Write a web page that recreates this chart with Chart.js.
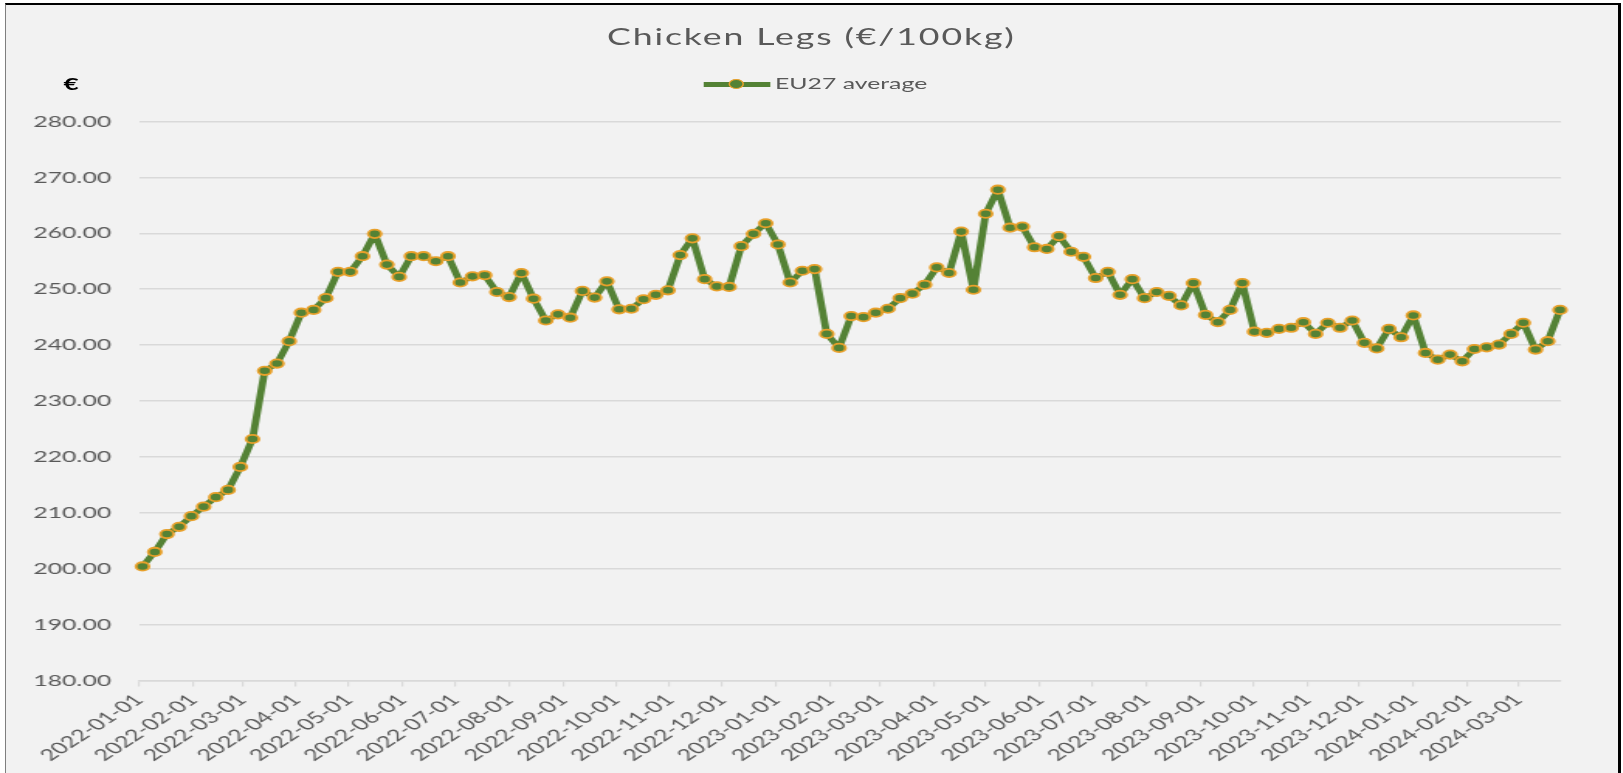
<!DOCTYPE html>
<html lang="en">
<head>
    <meta charset="UTF-8">
    <title>Chicken Legs (€/100kg)</title>
    <style>
        body {
            margin: 0;
            background: #fff;
            overflow: hidden;
            font-family: Lato, sans-serif;
        }
        #frame {
            position: absolute;
            left: 5px;
            top: 3px;
            width: 1612px;
            height: 800px;
            background: #f2f2f2;
            border-top: 2px solid #000;
            border-left: 1px solid #7f7f7f;
            border-right: 3px solid #000;
        }
        /* the original picture is stretched sideways, so the whole chart is drawn narrow and widened */
        #stage {
            position: absolute;
            left: 0;
            top: 0;
            width: 1047px;
            height: 773px;
            transform-origin: 0 0;
            transform: scaleX(1.55);
        }
        #title {
            position: absolute;
            left: 0;
            top: 22px;
            width: 1047px;
            text-align: center;
            font-size: 23px;
            line-height: 28px;
            letter-spacing: 1.2px;
            color: #595959;
        }
        #euro {
            position: absolute;
            left: 41px;
            top: 73px;
            font-size: 17px;
            font-weight: bold;
            color: #000;
        }
        #legLine {
            position: absolute;
            left: 454px;
            top: 81.5px;
            width: 43px;
            height: 5px;
            background: #548235;
        }
        #legDot {
            position: absolute;
            left: 469.5px;
            top: 78.5px;
            width: 8px;
            height: 8px;
            border: 1.8px solid #e8a02a;
            border-radius: 50%;
            background: #548235;
        }
        #legText {
            position: absolute;
            left: 500px;
            top: 73px;
            font-size: 16px;
            line-height: 20px;
            color: #595959;
        }
        #chart {
            position: absolute;
            left: 0;
            top: 0;
        }
    </style>
</head>
<body>
    <div id="frame"></div>
    <div id="stage">
        <div id="title">Chicken Legs (€/100kg)</div>
        <div id="euro">€</div>
        <div id="legLine"></div>
        <div id="legDot"></div>
        <div id="legText">EU27 average</div>
        <canvas id="chart" width="1047" height="773"></canvas>
    </div>
    <script src="https://cdn.jsdelivr.net/npm/chart.js"></script>
    <script>
        const seriesName = 'EU27 average';

        const weeks = [
            '2022-01-03', '2022-01-10', '2022-01-17', '2022-01-24', '2022-01-31', '2022-02-07', '2022-02-14', '2022-02-21',
            '2022-02-28', '2022-03-07', '2022-03-14', '2022-03-21', '2022-03-28', '2022-04-04', '2022-04-11', '2022-04-18',
            '2022-04-25', '2022-05-02', '2022-05-09', '2022-05-16', '2022-05-23', '2022-05-30', '2022-06-06', '2022-06-13',
            '2022-06-20', '2022-06-27', '2022-07-04', '2022-07-11', '2022-07-18', '2022-07-25', '2022-08-01', '2022-08-08',
            '2022-08-15', '2022-08-22', '2022-08-29', '2022-09-05', '2022-09-12', '2022-09-19', '2022-09-26', '2022-10-03',
            '2022-10-10', '2022-10-17', '2022-10-24', '2022-10-31', '2022-11-07', '2022-11-14', '2022-11-21', '2022-11-28',
            '2022-12-05', '2022-12-12', '2022-12-19', '2022-12-26', '2023-01-02', '2023-01-09', '2023-01-16', '2023-01-23',
            '2023-01-30', '2023-02-06', '2023-02-13', '2023-02-20', '2023-02-27', '2023-03-06', '2023-03-13', '2023-03-20',
            '2023-03-27', '2023-04-03', '2023-04-10', '2023-04-17', '2023-04-24', '2023-05-01', '2023-05-08', '2023-05-15',
            '2023-05-22', '2023-05-29', '2023-06-05', '2023-06-12', '2023-06-19', '2023-06-26', '2023-07-03', '2023-07-10',
            '2023-07-17', '2023-07-24', '2023-07-31', '2023-08-07', '2023-08-14', '2023-08-21', '2023-08-28', '2023-09-04',
            '2023-09-11', '2023-09-18', '2023-09-25', '2023-10-02', '2023-10-09', '2023-10-16', '2023-10-23', '2023-10-30',
            '2023-11-06', '2023-11-13', '2023-11-20', '2023-11-27', '2023-12-04', '2023-12-11', '2023-12-18', '2023-12-25',
            '2024-01-01', '2024-01-08', '2024-01-15', '2024-01-22', '2024-01-29', '2024-02-05', '2024-02-12', '2024-02-19',
            '2024-02-26', '2024-03-04', '2024-03-11', '2024-03-18', '2024-03-25'
        ];

        const prices = [
            200.4, 203.0, 206.2, 207.5, 209.4, 211.1, 212.8, 214.1, 218.2, 223.2,
            235.4, 236.7, 240.7, 245.8, 246.3, 248.4, 253.1, 253.1, 255.9, 259.9,
            254.4, 252.2, 255.9, 255.9, 255.0, 255.9, 251.2, 252.3, 252.5, 249.5,
            248.6, 252.9, 248.3, 244.4, 245.5, 244.9, 249.7, 248.5, 251.4, 246.4,
            246.5, 248.2, 249.0, 249.8, 256.1, 259.1, 251.8, 250.5, 250.4, 257.7,
            259.9, 261.8, 258.0, 251.2, 253.3, 253.6, 242.0, 239.5, 245.2, 245.0,
            245.8, 246.5, 248.4, 249.2, 250.8, 253.9, 252.9, 260.3, 249.9, 263.5,
            267.8, 261.0, 261.2, 257.5, 257.2, 259.5, 256.7, 255.8, 252.0, 253.1,
            249.0, 251.8, 248.4, 249.5, 248.8, 247.1, 251.1, 245.4, 244.1, 246.3,
            251.1, 242.4, 242.2, 242.9, 243.1, 244.1, 242.0, 244.0, 243.1, 244.4,
            240.4, 239.4, 242.9, 241.4, 245.3, 238.6, 237.4, 238.3, 237.1, 239.3,
            239.6, 240.1, 242.0, 244.0, 239.2, 240.7, 246.3
        ];

        const monthTicks = [
            '2022-01-01', '2022-02-01', '2022-03-01', '2022-04-01', '2022-05-01', '2022-06-01', '2022-07-01',
            '2022-08-01', '2022-09-01', '2022-10-01', '2022-11-01', '2022-12-01', '2023-01-01', '2023-02-01',
            '2023-03-01', '2023-04-01', '2023-05-01', '2023-06-01', '2023-07-01', '2023-08-01', '2023-09-01',
            '2023-10-01', '2023-11-01', '2023-12-01', '2024-01-01', '2024-02-01', '2024-03-01'
        ];

        const yMin = 180, yMax = 280, yStep = 10;
        const axisStart = '2022-01-01';
        const axisEnd = '2024-03-26';

        // days since the axis start, so the x scale is a plain linear one
        const dayOf = d => (Date.parse(d) - Date.parse(axisStart)) / 864e5;

        Chart.defaults.font.family = 'Lato, sans-serif';
        Chart.defaults.color = '#595959';

        const ctx = document.getElementById('chart').getContext('2d');
        const chart = new Chart(ctx, {
            type: 'line',
            data: {
                datasets: [{
                    label: seriesName,
                    data: weeks.map((w, i) => ({ x: dayOf(w), y: prices[i] })),
                    borderColor: '#548235',
                    borderWidth: 4.8,
                    borderJoinStyle: 'round',
                    borderCapStyle: 'round',
                    pointRadius: 4.2,
                    pointHoverRadius: 4.2,
                    pointBorderWidth: 1.8,
                    pointBackgroundColor: '#548235',
                    pointBorderColor: '#e8a02a',
                    tension: 0,
                    fill: false,
                    clip: false
                }]
            },
            options: {
                responsive: false,
                animation: false,
                devicePixelRatio: 1,
                layout: {
                    padding: { top: 121.5, right: 40, bottom: 0, left: 0 }
                },
                plugins: {
                    legend: { display: false },
                    title: { display: false },
                    tooltip: { enabled: false }
                },
                scales: {
                    x: {
                        type: 'linear',
                        min: dayOf(axisStart),
                        max: dayOf(axisEnd) - 0.5,
                        afterBuildTicks: scale => {
                            scale.ticks = monthTicks.map(m => ({ value: dayOf(m) }));
                        },
                        afterFit: scale => { scale.height = 92.5; },
                        ticks: {
                            autoSkip: false,
                            minRotation: 45,
                            maxRotation: 45,
                            padding: 4,
                            font: { size: 16 },
                            color: '#595959',
                            callback: (value, index) => monthTicks[index]
                        },
                        grid: {
                            drawOnChartArea: false,
                            drawTicks: true,
                            tickLength: 6,
                            color: '#d9d9d9',
                            lineWidth: 1.2
                        },
                        border: { display: true, color: '#d9d9d9', width: 1.5 }
                    },
                    y: {
                        min: yMin,
                        max: yMax,
                        afterFit: scale => { scale.width = 89.7; },
                        ticks: {
                            stepSize: yStep,
                            padding: 18,
                            font: { size: 16 },
                            color: '#595959',
                            callback: v => v.toFixed(2)
                        },
                        grid: {
                            drawTicks: false,
                            color: '#d9d9d9',
                            lineWidth: 1.5
                        },
                        border: { display: false }
                    }
                }
            }
        });
    </script>
</body>
</html>
